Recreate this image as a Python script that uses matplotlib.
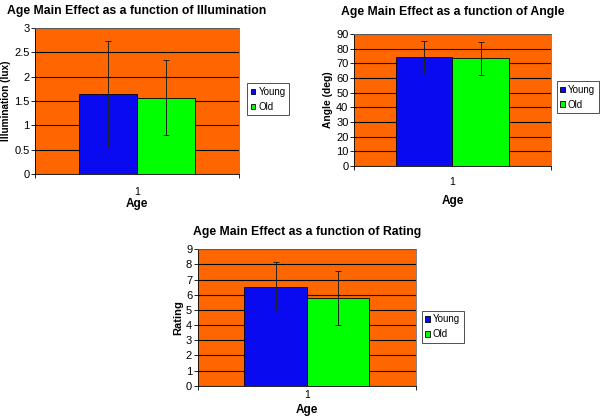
import matplotlib
matplotlib.use('Agg')
import matplotlib.pyplot as plt
import numpy as np

plt.rcParams['font.family'] = ['Liberation Sans', 'DejaVu Sans']

# ── Data ──────────────────────────────────────────────────────────────────────
groups = ['Young', 'Old']
categories = ['1']

illum_mean = [1.65, 1.57]
illum_err = [1.09, 0.77]

angle_mean = [74.1, 73.4]
angle_err = [11.0, 11.3]

rating_mean = [6.52, 5.80]
rating_err = [1.62, 1.78]

ORANGE = '#ff6600'
BAR_COLORS = ['#0a0af0', '#00ff00']

fig = plt.figure(figsize=(6.0, 4.19), dpi=100)
fig.patch.set_facecolor('white')


def panel(rect, means, errs, ymax, ystep, ylabel, title, fmt, leg_anchor,
          xpad, xlabpad, title_pad, ylab_size):
    ax = fig.add_axes(rect)
    ax.set_facecolor(ORANGE)
    w = 0.286
    x = np.arange(len(categories)) + 1
    handles = []
    for i, (m, e) in enumerate(zip(means, errs)):
        off = (i - 0.5) * w
        b = ax.bar(x + off, [m], width=w, color=BAR_COLORS[i],
                   edgecolor='black', linewidth=0.6, zorder=3,
                   label=groups[i])
        ax.errorbar(x + off, [m], yerr=[e], fmt='none', ecolor='#222222',
                    elinewidth=0.7, capsize=2, capthick=0.7, zorder=4)
        handles.append(b)
    ax.set_xlim(0.5, 1.5)
    ax.set_ylim(0, ymax)
    ticks = np.arange(0, ymax + ystep / 2, ystep)
    ax.set_yticks(ticks)
    ax.set_yticklabels([fmt(t) for t in ticks])
    ax.yaxis.grid(True, color='black', linewidth=0.8, zorder=1)
    ax.set_axisbelow(True)
    ax.set_xticks(x)
    ax.set_xticklabels(categories)
    ax.set_xticks([0.5, 1.5], minor=True)
    ax.tick_params(axis='x', which='major', length=0, labelsize=7.5, pad=xpad)
    ax.tick_params(axis='x', which='minor', length=3, width=0.6)
    ax.tick_params(axis='y', length=3, width=0.6, labelsize=8, pad=1)
    for s in ['top', 'right']:
        ax.spines[s].set_color('#707070')
        ax.spines[s].set_linewidth(0.6)
    for s in ['left', 'bottom']:
        ax.spines[s].set_color('black')
        ax.spines[s].set_linewidth(0.6)
    ax.set_xlabel('Age', fontsize=8.5, fontweight='bold', labelpad=xlabpad)
    ax.set_ylabel(ylabel, fontsize=ylab_size, fontweight='bold', labelpad=2)
    ax.set_title(title, fontsize=8.8, fontweight='bold', pad=title_pad)
    leg = ax.legend(handles=handles, loc='center left',
                    bbox_to_anchor=leg_anchor, bbox_transform=fig.transFigure,
                    fontsize=7, frameon=True, fancybox=False,
                    handlelength=0.5, handleheight=0.5, handletextpad=0.3,
                    borderpad=0.35, labelspacing=0.5, borderaxespad=0)
    leg.get_frame().set_edgecolor('black')
    leg.get_frame().set_linewidth(0.6)
    return ax


panel([0.0583, 0.5847, 0.34, 0.3484], illum_mean, illum_err, 3, 0.5,
      'Illumination (lux)', 'Age Main Effect as a function of Illumination',
      lambda t: ('%g' % t), (0.412, 0.763), 9, 1, 10, 7.2)

panel([0.59, 0.6038, 0.3283, 0.315], angle_mean, angle_err, 90, 10,
      'Angle (deg)', 'Age Main Effect as a function of Angle',
      lambda t: '%d' % t, (0.928, 0.768), 8, 6, 14, 7.4)

panel([0.3295, 0.0795, 0.3633, 0.3255], rating_mean, rating_err, 9, 1,
      'Rating', 'Age Main Effect as a function of Rating',
      lambda t: '%d' % t, (0.703, 0.22), 3, 3, 10, 8)

fig.savefig('out.png', dpi=100, facecolor='white')
